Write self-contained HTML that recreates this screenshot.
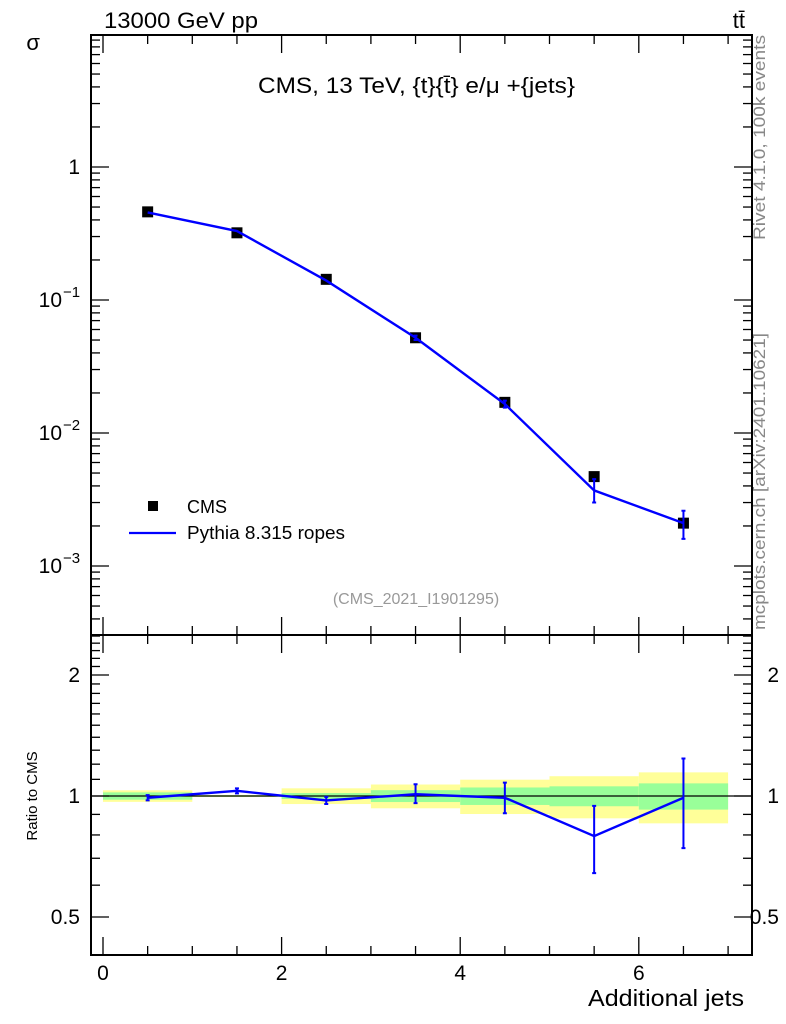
<!DOCTYPE html>
<html><head><meta charset="utf-8"><style>
html,body{margin:0;padding:0;background:#fff;}
svg{display:block;font-family:"Liberation Sans",sans-serif;}
</style></head><body>
<svg id="chart" width="786" height="1024" viewBox="0 0 786 1024" xmlns="http://www.w3.org/2000/svg">
<text x="104" y="28" font-size="22" textLength="154" lengthAdjust="spacingAndGlyphs">13000 GeV pp</text>
<text x="745" y="28" font-size="22" text-anchor="end">tt̄</text>
<text x="40" y="50" font-size="22" text-anchor="end">σ</text>
<text x="258" y="93" font-size="22" textLength="317" lengthAdjust="spacingAndGlyphs">CMS, 13 TeV, {t}{t̄} e/μ +{jets}</text>
<text x="416" y="604" font-size="16" fill="#999" text-anchor="middle">(CMS_2021_I1901295)</text>
<text transform="translate(765,240) rotate(-90)" font-size="17" fill="#888" textLength="205" lengthAdjust="spacingAndGlyphs">Rivet 4.1.0,  100k events</text>
<text transform="translate(765,630) rotate(-90)" font-size="17" fill="#888" textLength="297" lengthAdjust="spacingAndGlyphs">mcplots.cern.ch [arXiv:2401.10621]</text>
<text transform="translate(37,796) rotate(-90)" font-size="15" text-anchor="middle">Ratio to CMS</text>
<text x="744" y="1006" font-size="23" text-anchor="end" textLength="156" lengthAdjust="spacingAndGlyphs">Additional jets</text>
<g id="bands"></g><g id="axes"></g><g id="marks"></g>
<g>
<rect x="148" y="501" width="10" height="10" fill="#000"/>
<text x="187" y="513" font-size="18">CMS</text>
<line x1="129" y1="533" x2="176" y2="533" stroke="#00f" stroke-width="2.2"/>
<text x="187" y="539" font-size="18" textLength="158" lengthAdjust="spacingAndGlyphs">Pythia 8.315 ropes</text>
</g>
</svg>
<script>
const binCenters=[0.5,1.5,2.5,3.5,4.5,5.5,6.5];
const binEdges=[0,1,2,3,4,5,6,7];
const cmsValues=[0.46,0.32,0.143,0.052,0.017,0.0047,0.0021];
const mcValues=[0.455,0.33,0.14,0.052,0.0165,0.0037,0.0021];
const mcErrLo=[0.455,0.325,0.137,0.050,0.0155,0.0030,0.0016];
const mcErrHi=[0.455,0.335,0.143,0.054,0.0175,0.0045,0.0026];
const ratioValues=[0.99,1.03,0.975,1.01,0.99,0.795,0.99];
const ratioErrLo=[0.975,1.015,0.955,0.96,0.906,0.643,0.742];
const ratioErrHi=[1.005,1.045,0.995,1.07,1.08,0.945,1.24];
const bandTotal=[0.033,0.006,0.045,0.068,0.098,0.12,0.145];
const bandStat=[0.021,0.004,0.017,0.034,0.05,0.057,0.075];
const xTicks=[0,2,4,6];
const yTicks=[1,0.1,0.01,0.001];
const yTickLabels=["1","10","10","10"];
const yTickExps=["","−1","−2","−3"];
const rTicks=[0.5,1,2];
const rTickLabels=["0.5","1","2"];

const L=91,R=752,T=35,MB=635,B=955;
const X=v=>103+(v)*89.3;
const Y=v=>167-Math.log10(v)*133;
const RY=v=>796-Math.log2(v)*121;
const NS="http://www.w3.org/2000/svg";
function mk(parent,tag,attrs){const e=document.createElementNS(NS,tag);for(const k in attrs)e.setAttribute(k,attrs[k]);document.getElementById(parent).appendChild(e);return e;}

for(let i=0;i<binCenters.length;i++){
  const r=mk('bands','rect',{x:X(binEdges[i]),width:X(binEdges[i+1])-X(binEdges[i]),y:RY(1+bandTotal[i]),height:RY(1-bandTotal[i])-RY(1+bandTotal[i]),fill:'#ffff99'});
  
  
  const g=mk('bands','rect',{x:X(binEdges[i]),width:X(binEdges[i+1])-X(binEdges[i]),y:RY(1+bandStat[i]),height:RY(1-bandStat[i])-RY(1+bandStat[i]),fill:'#99ff99'});
  
  
}
const one=mk('bands','line',{x1:L,x2:R,y1:RY(1),y2:RY(1),stroke:'#000','stroke-width':1.3});



for(const [t,b,nm] of [[T,MB,'main-frame'],[MB,B,'ratio-frame']]){
  const f=mk('axes','rect',{x:L,y:t,width:R-L,height:b-t,fill:'none',stroke:'#000','stroke-width':2});
  
  
}
function tick(x1,y1,x2,y2,nm){const l=mk('axes','line',{x1,y1,x2,y2,stroke:'#000','stroke-width':1.3});}
for(let v=0;v<=7.01;v+=0.5){
  const major=xTicks.includes(v);const len=major?18:9;
  for(const [t,b] of [[T,MB],[MB,B]]){tick(X(v),b,X(v),b-len,'x-tick');tick(X(v),t,X(v),t+len,'x-tick');}
}
xTicks.forEach(v=>{const t=mk('axes','text',{x:X(v),y:980,'font-size':21,'text-anchor':'middle'});t.textContent=v;});
for(let d=-4;d<=1;d++){for(let m=1;m<=9;m++){const v=m*Math.pow(10,d);const y=Y(v);if(y<T||y>MB)continue;const len=m===1?18:9;tick(L,y,L+len,y,'y-tick');tick(R,y,R-len,y,'y-tick');}}
yTicks.forEach((v,i)=>{const t=mk('axes','text',{x:yTickExps[i]?62:80,y:Y(v)+7,'font-size':21,'text-anchor':'end'});t.textContent=yTickLabels[i];
 if(yTickExps[i]){const s=mk('axes','text',{x:63,y:Y(v)-3,'font-size':15});s.textContent=yTickExps[i];}});
for(let k=4;k<=25;k++){const v=k/10;const y=RY(v);if(y<MB||y>B)continue;const len=rTicks.includes(v)?18:9;tick(L,y,L+len,y,'ratio-tick');tick(R,y,R-len,y,'ratio-tick');}
rTicks.forEach((v,i)=>{for(const x of [80,779]){const t=mk('axes','text',{x,y:RY(v)+7,'font-size':21,'text-anchor':'end'});t.textContent=rTickLabels[i];}});

cmsValues.forEach((v,i)=>{const r=mk('marks','rect',{x:X(binCenters[i])-5.5,y:Y(v)-5.5,width:11,height:11,fill:'#000'});});
const mcPath=mk('marks','polyline',{points:binCenters.map((c,i)=>X(c)+','+Y(mcValues[i])).join(' '),fill:'none',stroke:'#00f','stroke-width':2.4});


binCenters.forEach((c,i)=>{const y1=Y(mcErrHi[i]),y2=Y(mcErrLo[i]);if(y2-y1<3)return;
 const l=mk('marks','path',{d:`M${X(c)},${y1}V${y2}M${X(c)-2},${y1}h4M${X(c)-2},${y2}h4`,stroke:'#00f','stroke-width':2,fill:'none'});});
const rPath=mk('marks','polyline',{points:binCenters.map((c,i)=>X(c)+','+RY(ratioValues[i])).join(' '),fill:'none',stroke:'#00f','stroke-width':2.4});


binCenters.forEach((c,i)=>{const y1=RY(ratioErrHi[i]),y2=RY(ratioErrLo[i]);
 const l=mk('marks','path',{d:`M${X(c)},${y1}V${y2}M${X(c)-2},${y1}h4M${X(c)-2},${y2}h4`,stroke:'#00f','stroke-width':2,fill:'none'});});
</script>
</body></html>
